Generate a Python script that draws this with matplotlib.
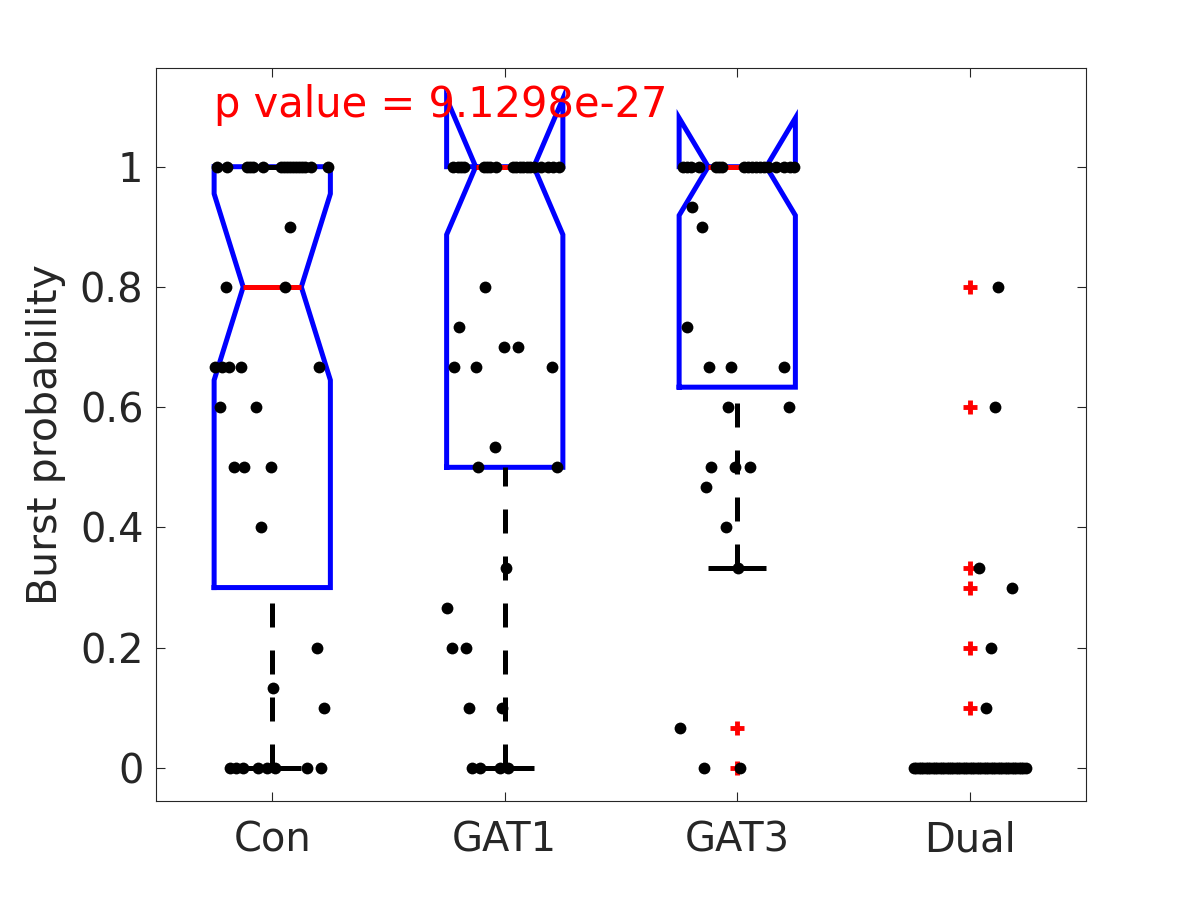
import matplotlib
matplotlib.use("Agg")
import matplotlib.pyplot as plt

# Groups and box statistics
categories = ['Con', 'GAT1', 'GAT3', 'Dual']
q1 = [0.3, 0.5, 0.6333, 0.0]
medians = [0.8, 1.0, 1.0, 0.0]
q3 = [1.0, 1.0, 1.0, 0.0]
whisker_lo = [0.0, 0.0, 0.3333, 0.0]
whisker_hi = [1.0, 1.0, 1.0, 0.0]
notch_half = [0.155, 0.113, 0.081, 0.0]

# Outliers (red +) per group
outliers = [[], [], [0.0667, 0.0], [0.8, 0.6, 0.3333, 0.3, 0.2, 0.1]]

# Individual observations and their horizontal jitter
con_vals = [1] * 17 + [0.9, 0.8, 0.8] + [0.6667] * 5 + [0.6, 0.6, 0.5, 0.5, 0.5, 0.4,
            0.2, 0.1333, 0.1] + [0] * 8
con_jit = [-0.237, -0.194, -0.108, -0.095, -0.082, -0.039, 0.039, 0.052, 0.065, 0.078, 0.090,
           0.103, 0.116, 0.129, 0.142, 0.168, 0.241,
           0.077, -0.20, 0.056,
           -0.245, -0.216, -0.185, -0.133, 0.202,
           -0.224, -0.069, -0.163, -0.12, -0.004, -0.047,
           0.193, 0.004, 0.224,
           -0.18, -0.155, -0.125, -0.061, -0.023, 0.013, 0.151, 0.211]

gat1_vals = [1] * 19 + [0.8, 0.7333, 0.7, 0.7, 0.6667, 0.6667, 0.6667, 0.5333, 0.5, 0.5,
            0.3333, 0.2667, 0.2, 0.2, 0.1, 0.1] + [0] * 4
gat1_jit = [-0.224, -0.202, -0.189, -0.176, -0.090, -0.077, -0.065, -0.039, 0.034, 0.050, 0.065,
            0.080, 0.095, 0.110, 0.125, 0.155, 0.185, 0.206, 0.232,
            -0.086, -0.198, -0.003, 0.057, -0.219, -0.125, 0.202, -0.043, -0.116, 0.224,
            0.007, -0.25, -0.228, -0.168, -0.155, -0.013,
            -0.142, -0.108, -0.022, 0.013]

gat3_vals = [1] * 18 + [0.9333, 0.9, 0.7333, 0.6667, 0.6667, 0.6667, 0.6, 0.6, 0.5, 0.5, 0.5,
            0.4667, 0.4, 0.3333, 0.0667, 0, 0]
gat3_jit = [-0.232, -0.215, -0.198, -0.163, -0.090, -0.077, -0.065, 0.030, 0.048, 0.065, 0.082,
            0.099, 0.116, 0.133, 0.168, 0.202, 0.228, 0.245,
            -0.194, -0.15, -0.215, -0.12, -0.026, 0.2, -0.04, 0.224, -0.112, -0.009, 0.056,
            -0.133, -0.047, 0.004, -0.245, -0.142, 0.013]

dual_vals = [0.8, 0.6, 0.3333, 0.3, 0.2, 0.1] + [0] * 49
dual_jit = [0.122, 0.108, 0.040, 0.183, 0.092, 0.069,
            -0.241, -0.23, -0.22, -0.21, -0.2, -0.19, -0.18, -0.17, -0.16, -0.15, -0.14, -0.13,
            -0.12, -0.11, -0.1, -0.09, -0.08, -0.07, -0.06, -0.05, -0.04, -0.03, -0.02, -0.01,
            0.0, 0.01, 0.02, 0.03, 0.04, 0.05, 0.06, 0.07, 0.08, 0.09, 0.1, 0.11, 0.12, 0.13,
            0.14, 0.15, 0.16, 0.17, 0.18, 0.19, 0.2, 0.21, 0.22, 0.23, 0.243]

point_vals = [con_vals, gat1_vals, gat3_vals, dual_vals]
point_jit = [con_jit, gat1_jit, gat3_jit, dual_jit]

p_text = "p value = 9.1298e-27"

TXT = '#262626'
LW = 3.6
BOX_HALF = 0.25
CAP_HALF = 0.125

fig = plt.figure(figsize=(12, 9), dpi=100)
ax = fig.add_axes([0.13, 0.11, 0.775, 0.815])

for i in range(len(categories)):
    x = i + 1
    L, R = x - BOX_HALF, x + BOX_HALF
    nL, nR = x - BOX_HALF / 2, x + BOX_HALF / 2
    nlo, nhi = medians[i] - notch_half[i], medians[i] + notch_half[i]
    # notched box outline (MATLAB style)
    bx = [L, L, nL, L, L, R, R, nR, R, R, L]
    by = [q1[i], nlo, medians[i], nhi, q3[i], q3[i], nhi, medians[i], nlo, q1[i], q1[i]]
    ax.plot(bx, by, color='blue', lw=LW, zorder=2, solid_joinstyle='miter')
    # median
    ax.plot([nL, nR], [medians[i], medians[i]], color='red', lw=LW, zorder=3,
            solid_capstyle='butt')
    # whiskers
    ax.plot([x, x], [whisker_lo[i], q1[i]], color='black', lw=LW, zorder=2,
            linestyle=(0, (4.8, 4.6)))
    ax.plot([x, x], [whisker_hi[i], q3[i]], color='black', lw=LW, zorder=2,
            linestyle=(0, (4.8, 4.6)))
    for w in (whisker_lo[i], whisker_hi[i]):
        ax.plot([x - CAP_HALF, x + CAP_HALF], [w, w], color='black', lw=LW, zorder=2,
                solid_capstyle='butt')
    # outliers
    if outliers[i]:
        ax.plot([x] * len(outliers[i]), outliers[i], linestyle='none', marker='+',
                color='red', markersize=10, mew=3.5, zorder=3)
    # jittered observations
    xs = [x + j for j in point_jit[i]]
    ax.plot(xs, point_vals[i], linestyle='none', marker='o', color='black',
            markersize=8.5, mew=0, zorder=4)

ax.text(0.75, 1.083, p_text, color='red', fontsize=30, ha='left', va='baseline')

ax.set_xlim(0.5, 4.5)
ax.set_ylim(-0.055, 1.165)
ax.set_xticks(range(1, len(categories) + 1))
ax.set_xticklabels(categories)
yt = [0, 0.2, 0.4, 0.6, 0.8, 1.0]
ax.set_yticks(yt)
ax.set_yticklabels(['0', '0.2', '0.4', '0.6', '0.8', '1'])
ax.set_ylabel('Burst probability', fontsize=29.5, color=TXT, labelpad=10)

ax.tick_params(axis='both', direction='in', length=6.5, width=0.8, colors=TXT,
               labelsize=28.8, top=True, right=True)
ax.tick_params(axis='x', pad=14)
ax.tick_params(axis='y', pad=9)
for s in ax.spines.values():
    s.set_linewidth(0.8)
    s.set_color(TXT)

fig.savefig('out.png', dpi=100)
